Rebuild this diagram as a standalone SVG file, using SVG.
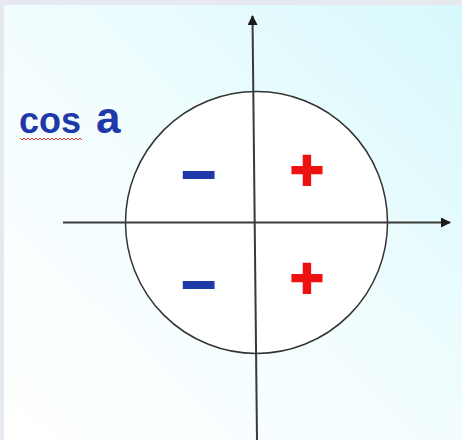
<svg xmlns="http://www.w3.org/2000/svg" width="462" height="440" viewBox="0 0 462 440">
<defs>
<linearGradient id="bg" x1="0" y1="1" x2="1" y2="0">
<stop offset="0" stop-color="#ffffff"/>
<stop offset="0.5" stop-color="#f2fdfe"/>
<stop offset="1" stop-color="#d6f8fc"/>
</linearGradient>
<marker id="arr" viewBox="0 0 10 10" refX="9" refY="5" markerWidth="10" markerHeight="10" markerUnits="userSpaceOnUse" orient="auto">
<path d="M0,0 L10,5 L0,10 Z" fill="#1a1a1a"/>
</marker>
<style>
.axis{stroke:#3a3a3a;stroke-width:2;fill:none}
.minus{font-family:"Liberation Sans",Arial,sans-serif;font-weight:bold;font-size:60px;fill:#1f3aa8;stroke:#1f3aa8;stroke-width:2}
.plus{font-family:"Liberation Sans",Arial,sans-serif;font-weight:bold;font-size:58px;fill:#ee1111;stroke:#ee1111;stroke-width:2}
.lbl{font-family:"Liberation Sans",Arial,sans-serif;fill:#1f3aa8;font-weight:bold}
</style>
</defs>
<rect x="0" y="0" width="462" height="440" fill="url(#bg)"/>
<rect x="0" y="0" width="462" height="5" fill="#e6e9ef"/>
<rect x="0" y="0" width="4" height="440" fill="#e6e9ef"/>
<g id="circle">
<circle cx="256.5" cy="222.5" r="131" fill="#ffffff" stroke="#333" stroke-width="1.5"/>
</g>
<g id="connectors">
<line class="axis" x1="63" y1="222.5" x2="450" y2="222.5" marker-end="url(#arr)"/>
<line class="axis" x1="257" y1="440" x2="252.5" y2="16" marker-end="url(#arr)"/>
</g>
<g id="label">
<text class="lbl" x="19" y="133" font-size="36">cos</text>
<text class="lbl" x="96" y="133" font-size="44">a</text>
<path d="M20,138 l2,2 l2,-2 l2,2 l2,-2 l2,2 l2,-2 l2,2 l2,-2 l2,2 l2,-2 l2,2 l2,-2 l2,2 l2,-2 l2,2 l2,-2 l2,2 l2,-2 l2,2 l2,-2 l2,2 l2,-2 l2,2 l2,-2 l2,2 l2,-2 l2,2 l2,-2 l2,2 l2,-2 l2,2" fill="none" stroke="#e03030" stroke-width="1"/>
</g>
<g id="q2"><text class="minus" x="182" y="191">–</text></g>
<g id="q3"><text class="minus" x="182" y="301">–</text></g>
<g id="q1"><text class="plus" x="290" y="190">+</text></g>
<g id="q4"><text class="plus" x="290" y="298">+</text></g>
</svg>
